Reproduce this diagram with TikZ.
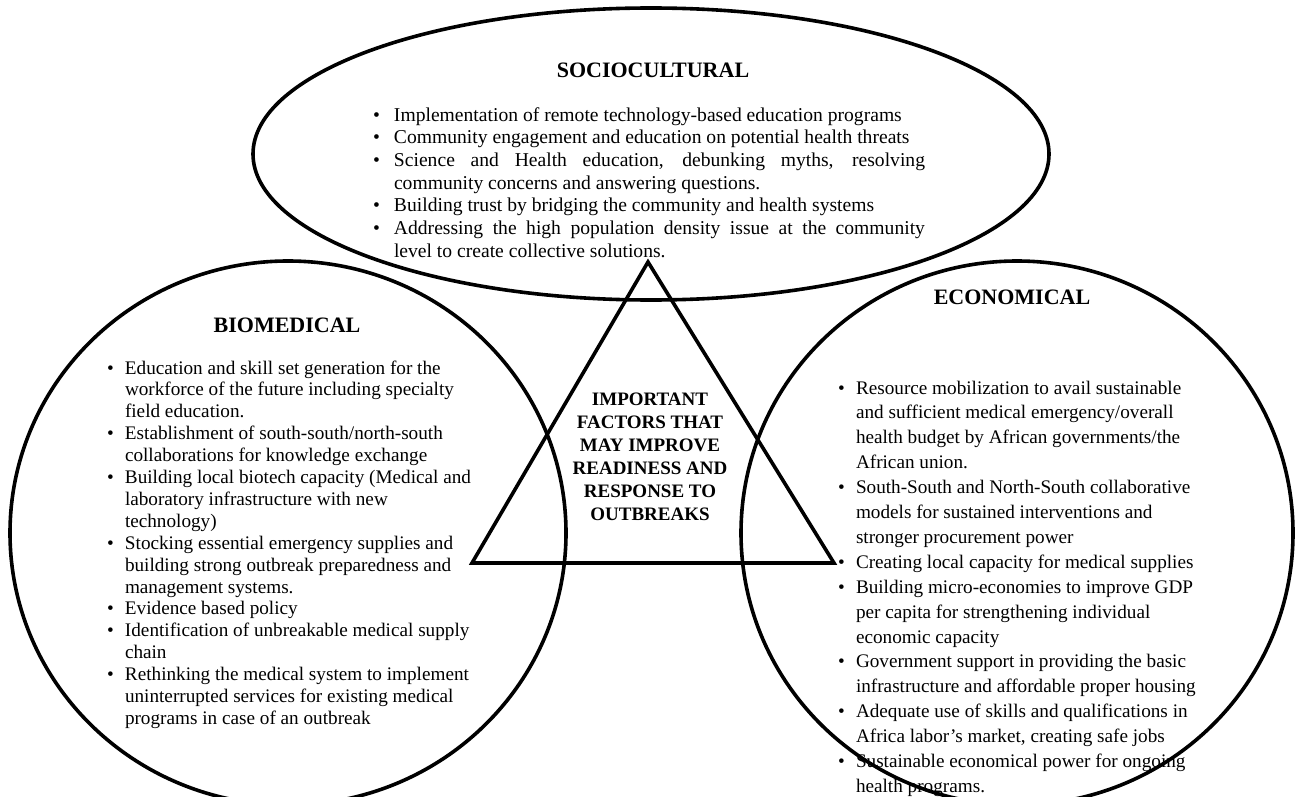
\documentclass[tikz,border=0pt]{standalone}
\usepackage{fontspec}
\setmainfont{Liberation Serif}
\usetikzlibrary{shapes.geometric}
\newcommand{\bul}[2]{\par\noindent\hangindent=#1\hangafter=1\makebox[#1][l]{\textbullet}\ignorespaces#2\par}
\begin{document}
\begin{tikzpicture}[x=0.5pt,y=-0.5pt,
  oval/.style={draw, line width=1.8pt, ellipse, inner sep=0pt, outer sep=0pt},
  txt/.style={inner sep=0pt, outer sep=0pt, anchor=base west},
  ttl/.style={inner sep=0pt, outer sep=0pt, anchor=base, font=\fontsize{11}{13}\selectfont\bfseries}]
\useasboundingbox (0,0) rectangle (1295,797);
\parskip=0pt \hyphenpenalty=10000
% shapes
\node[oval, minimum width=398pt, minimum height=146pt] (soc) at (651,154) {};
\node[oval, minimum width=278pt, minimum height=272pt] (bio) at (288,533) {};
\node[oval, minimum width=276pt, minimum height=272pt] (eco) at (1017,533) {};
\coordinate (apex) at (648,262);
\coordinate (bl) at (472,563);
\coordinate (br) at (834,563);
\draw[line width=1.8pt, line join=miter] (apex) -- (bl) -- (br) -- cycle;
% titles
\node[ttl] (socttl) at (653,78) {SOCIOCULTURAL};
\node[ttl] (biottl) at (287,332) {BIOMEDICAL};
\node[ttl] (ecottl) at (1012,304) {ECONOMICAL};
% centre
\node[inner sep=0pt, outer sep=0pt, anchor=base] (core) at (650,405) {\parbox[t]{110pt}{\centering\bfseries\fontsize{9.5}{11.5}\selectfont IMPORTANT\\ FACTORS THAT\\ MAY IMPROVE\\ READINESS AND\\ RESPONSE TO\\ OUTBREAKS}};
% sociocultural
\node[txt] (soctext) at (373,121) {\parbox[t]{276pt}{\fontsize{9.8}{11.35}\selectfont\parskip=0pt
\bul{10.5pt}{Implementation of remote technology-based education programs}
\bul{10.5pt}{Community engagement and education on potential health threats}
\bul{10.5pt}{Science and Health education, debunking myths, resolving\linebreak community concerns and answering questions.}
\bul{10.5pt}{Building trust by bridging the community and health systems}
\bul{10.5pt}{Addressing the high population density issue at the community\linebreak level to create collective solutions.}}};
% biomedical
\node[txt] (biotext) at (107,374) {\parbox[t]{210pt}{\raggedright\fontsize{9.6}{10.95}\selectfont\parskip=0pt
\bul{9pt}{Education and skill set generation for the\newline workforce of the future including specialty\newline field education.}
\bul{9pt}{Establishment of south-south/north-south\newline collaborations for knowledge exchange}
\bul{9pt}{Building local biotech capacity (Medical and\newline laboratory infrastructure with new\newline technology)}
\bul{9pt}{Stocking essential emergency supplies and\newline building strong outbreak preparedness and\newline management systems.}
\bul{9pt}{Evidence based policy}
\bul{9pt}{Identification of unbreakable medical supply\newline chain}
\bul{9pt}{Rethinking the medical system to implement\newline uninterrupted services for existing medical\newline programs in case of an outbreak}}};
% economical
\node[txt] (ecotext) at (838,394) {\parbox[t]{210pt}{\raggedright\fontsize{9.6}{12.45}\selectfont\parskip=0pt
\bul{9pt}{Resource mobilization to avail sustainable\newline and sufficient medical emergency/overall\newline health budget by African governments/the\newline African union.}
\bul{9pt}{South-South and North-South collaborative\newline models for sustained interventions and\newline stronger procurement power}
\bul{9pt}{Creating local capacity for medical supplies}
\bul{9pt}{Building micro-economies to improve GDP\newline per capita for strengthening individual\newline economic capacity}
\bul{9pt}{Government support in providing the basic\newline infrastructure and affordable proper housing}
\bul{9pt}{Adequate use of skills and qualifications in\newline Africa labor’s market, creating safe jobs}
\bul{9pt}{Sustainable economical power for ongoing\newline health programs.}}};
\end{tikzpicture}
\end{document}
